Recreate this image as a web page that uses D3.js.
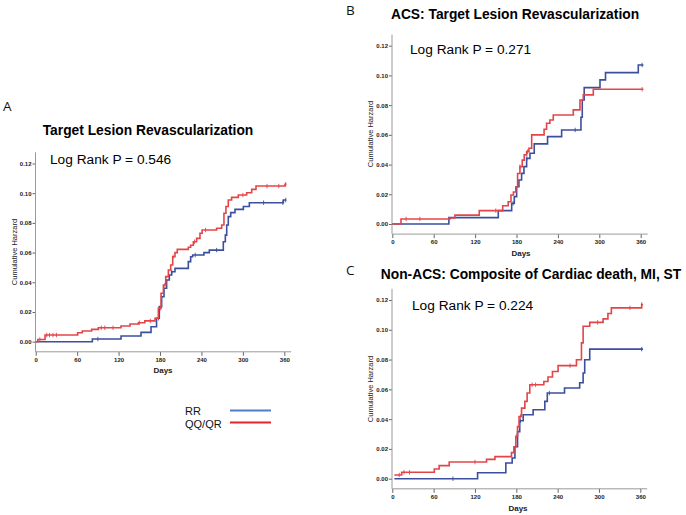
<!DOCTYPE html>
<html><head><meta charset="utf-8">
<script src="https://cdn.jsdelivr.net/npm/d3@7"></script>
<style>
body{margin:0;background:#fff;}
svg{display:block;}
</style></head>
<body><svg id="c" width="686" height="515"></svg>
<script>
// ---------- data ----------
const xTicks = [0, 60, 120, 180, 240, 300, 360];
const yTicks = [0, 0.02, 0.04, 0.06, 0.08, 0.10, 0.12];
const yTickLabels = ["0.00", "0.02", "0.04", "0.06", "0.08", "0.10", "0.12"];
const seriesNames = ["RR", "QQ/QR"];
const panelLetters = ["A", "B", "C"];
const panelTitles = ["Target Lesion Revascularization", "ACS: Target Lesion Revascularization", "Non-ACS: Composite of Cardiac death, MI, ST"];
const pValues = ["Log Rank P = 0.546", "Log Rank P = 0.271", "Log Rank P = 0.224"];

// Panel A
const aRR = [[0,0],[82,0.0018],[123.6,0.0038],[152.5,0.0063],[167,0.0101],[175,0.0158],[179,0.0236],[182.4,0.0303],[185.8,0.036],[189.6,0.0415],[193.5,0.0449],[196.9,0.0471],[201.7,0.0494],[221,0.0539],[224.4,0.0572],[227.3,0.0584],[243.6,0.06],[251.4,0.0617],[271.7,0.0673],[274.6,0.0718],[276.6,0.0786],[278.9,0.0842],[282.4,0.0869],[288.6,0.0891],[300.7,0.091],[309.4,0.0936],[358.6,0.0954],[363,0.0954]];
const aQQ = [[0,0],[3,0.0015],[13.5,0.0045],[60.8,0.006],[67.5,0.0072],[81,0.0083],[90.7,0.0094],[123.5,0.0106],[136.6,0.0119],[148.7,0.0128],[158,0.014],[172.8,0.0158],[177.6,0.0225],[181.5,0.0326],[184.9,0.0382],[188.3,0.0438],[192.1,0.0483],[195.5,0.0516],[198.4,0.0572],[201.7,0.06],[205,0.0622],[221,0.0636],[224.4,0.065],[228.3,0.0673],[233,0.0696],[237.9,0.073],[241,0.0752],[262,0.0764],[269.3,0.0786],[272.6,0.0865],[275.5,0.091],[278.9,0.0954],[283.7,0.0972],[293.4,0.0988],[305.5,0.1003],[312.8,0.1026],[319,0.1048],[361,0.106],[363,0.106]];
const aRRcens = [90, 178, 197, 231, 262, 330, 358, 362];
const aQQcens = [6, 16, 20, 25, 30, 95, 100, 112, 150, 166, 181, 187, 199, 230, 246, 300, 335, 352, 362];

// Panel B
const bRR = [[0,0],[82,0.0043],[153.6,0.009],[173,0.0139],[176.8,0.0184],[180.2,0.0251],[183.5,0.0296],[187.4,0.0341],[190.8,0.0386],[194.7,0.0442],[199.5,0.0476],[205.7,0.0539],[225,0.0588],[245.4,0.0633],[273.4,0.0718],[275.3,0.0835],[278.1,0.0918],[301,0.097],[309,0.1019],[356.5,0.107],[364,0.107]];
const bQQ = [[0,0],[12.6,0.0034],[83.6,0.004],[90.8,0.006],[126,0.009],[160,0.0123],[168,0.015],[172,0.0195],[175.5,0.0215],[179,0.0251],[181.6,0.034],[185,0.0386],[188.3,0.043],[191.2,0.0465],[194.7,0.0487],[198,0.051],[202,0.06],[220,0.0638],[223.6,0.0678],[228.4,0.07],[233.3,0.0734],[262.3,0.0768],[272,0.0835],[276.8,0.0869],[291.3,0.0907],[364,0.0907]];
const bRRcens = [175, 195, 265, 362];
const bQQcens = [20, 40, 150, 185, 196, 362];

// Panel C
const cRR = [[3,0],[123.8,0.004],[164.8,0.0105],[174,0.0139],[178,0.0215],[181.8,0.0316],[185,0.0389],[190,0.0429],[204.4,0.0463],[221.4,0.0519],[225,0.0575],[250,0.0609],[272,0.0644],[277,0.071],[279.3,0.0799],[286.6,0.0870],[364,0.087]];
const cQQ = [[3,0.0025],[13.6,0.0043],[61,0.0065],[68,0.0088],[82.6,0.0112],[136.8,0.013],[149,0.0148],[173,0.0175],[176.5,0.0215],[179.3,0.0283],[181.8,0.035],[184,0.0418],[187.6,0.0474],[192.4,0.0519],[195.7,0.0575],[199.6,0.0631],[220,0.0653],[226,0.0683],[232.5,0.072],[240.7,0.0759],[267.3,0.0799],[274.6,0.0912],[277,0.1024],[286.6,0.105],[306,0.1073],[313,0.1109],[318,0.1147],[362,0.117],[364,0.117]];
const cRRcens = [88, 186, 228, 362];
const cQQcens = [10, 17, 25, 120, 180, 186, 203, 208, 258, 298, 345, 362];

// ---------- layout / style ----------
const blue = "#3b4f9e", red = "#e24548";
const legendBlue = "#4d7fc9", legendRed = "#e0262b";
const axisColor = "#9a9a9a";
const font = "'Liberation Sans', Arial, sans-serif";

const layouts = [
  {x0:35.7, x360:284.3, y0:341.7, y12:163.5, ax:35.5, letter:[3,111], title:[148,135], p:[50,163.5], ylab:[14,252], days:[163,373]},
  {x0:392.3, x360:640.7, y0:224, y12:45.7, ax:392, letter:[346,15], title:[515,18.5], p:[410,53.5], ylab:[370,134], days:[521,256]},
  {x0:392.3, x360:640.3, y0:478.7, y12:300, ax:392, letter:[346,275], title:[531,279], p:[412,309.5], ylab:[370,389], days:[518,511]}
];
const panelData = [
  {rr:aRR, qq:aQQ, rrC:aRRcens, qqC:aQQcens},
  {rr:bRR, qq:bQQ, rrC:bRRcens, qqC:bQQcens},
  {rr:cRR, qq:cQQ, rrC:cRRcens, qqC:cQQcens}
];

const svg = d3.select("#c");

function valueAt(series, day){
  let v = series[0][1];
  for (const p of series){ if (p[0] <= day) v = p[1]; }
  return v;
}

layouts.forEach((L, i) => {
  const D = panelData[i];
  const x = d3.scaleLinear().domain([0, 360]).range([L.x0, L.x360]);
  const y = d3.scaleLinear().domain([0, 0.12]).range([L.y0, L.y12]);
  const g = svg.append("g");
  const axisY = y(-0.0068);

  // x axis
  const xa = g.append("g").attr("transform", `translate(0,${axisY})`)
    .call(d3.axisBottom(x).tickValues(xTicks).tickSize(4).tickSizeOuter(0).tickPadding(2));
  xa.select(".domain").remove();
  xa.selectAll("line").attr("stroke", "#666");
  xa.selectAll("text").attr("font-family", font).attr("font-size", 6).attr("font-weight", "bold").attr("fill", "#222");
  g.append("line").attr("x1", x(0)).attr("x2", x(370)).attr("y1", axisY).attr("y2", axisY)
    .attr("stroke", axisColor).attr("stroke-width", 1);

  // y axis
  const ya = g.append("g").attr("transform", `translate(${L.ax},0)`)
    .call(d3.axisLeft(y).tickValues(yTicks).tickFormat((d, k) => yTickLabels[k]).tickSize(3).tickSizeOuter(0).tickPadding(1));
  ya.select(".domain").remove();
  ya.selectAll("line").attr("stroke", "#666");
  ya.selectAll("text").attr("font-family", font).attr("font-size", 6).attr("font-weight", "bold").attr("fill", "#222");
  g.append("line").attr("x1", L.ax).attr("x2", L.ax).attr("y1", y(0.1275)).attr("y2", axisY)
    .attr("stroke", axisColor).attr("stroke-width", 1);

  // curves
  const line = d3.line().x(d => x(d[0])).y(d => y(d[1])).curve(d3.curveStepAfter);
  [[D.rr, D.rrC, blue], [D.qq, D.qqC, red]].forEach(([s, cens, col]) => {
    g.append("path").datum(s).attr("d", line).attr("fill", "none")
      .attr("stroke", col).attr("stroke-width", 1.6);
    g.selectAll(null).data(cens).enter().append("line")
      .attr("x1", d => x(d)).attr("x2", d => x(d))
      .attr("y1", d => y(valueAt(s, d)) - 2.2).attr("y2", d => y(valueAt(s, d)) + 2.2)
      .attr("stroke", col).attr("stroke-width", 0.9);
  });

  // texts
  g.append("text").attr("x", L.letter[0]).attr("y", L.letter[1]).text(panelLetters[i])
    .attr("font-family", "'Open Sans', sans-serif").attr("font-weight", 400).attr("font-size", 13.5).attr("fill", "#111");
  g.append("text").attr("x", L.title[0]).attr("y", L.title[1]).attr("text-anchor", "middle").text(panelTitles[i])
    .attr("font-family", font).attr("font-weight", "bold").attr("font-size", 13.8).attr("fill", "#000");
  g.append("text").attr("x", L.p[0]).attr("y", L.p[1]).text(pValues[i])
    .attr("font-family", font).attr("font-size", 13.7).attr("fill", "#000");
  g.append("text").attr("transform", `translate(${L.ylab[0]},${L.ylab[1]}) rotate(-90)`)
    .attr("text-anchor", "middle").attr("dy", "0.35em").text("Cumulative Harzard")
    .attr("font-family", font).attr("font-size", 7.5).attr("fill", "#222");
  g.append("text").attr("x", L.days[0]).attr("y", L.days[1]).attr("text-anchor", "middle").text("Days")
    .attr("font-family", font).attr("font-size", 8).attr("font-weight", "bold").attr("fill", "#222");
});

// legend
const legend = svg.append("g");
[[seriesNames[0], legendBlue, 410.5, 414.5], [seriesNames[1], legendRed, 422.5, 427.5]].forEach(([name, col, yy, ty]) => {
  legend.append("text").attr("x", 185).attr("y", ty).text(name)
    .attr("font-family", font).attr("font-size", 11).attr("fill", "#111");
  legend.append("line").attr("x1", 230).attr("x2", 271).attr("y1", yy).attr("y2", yy)
    .attr("stroke", col).attr("stroke-width", 2);
});
</script>
</body></html>
